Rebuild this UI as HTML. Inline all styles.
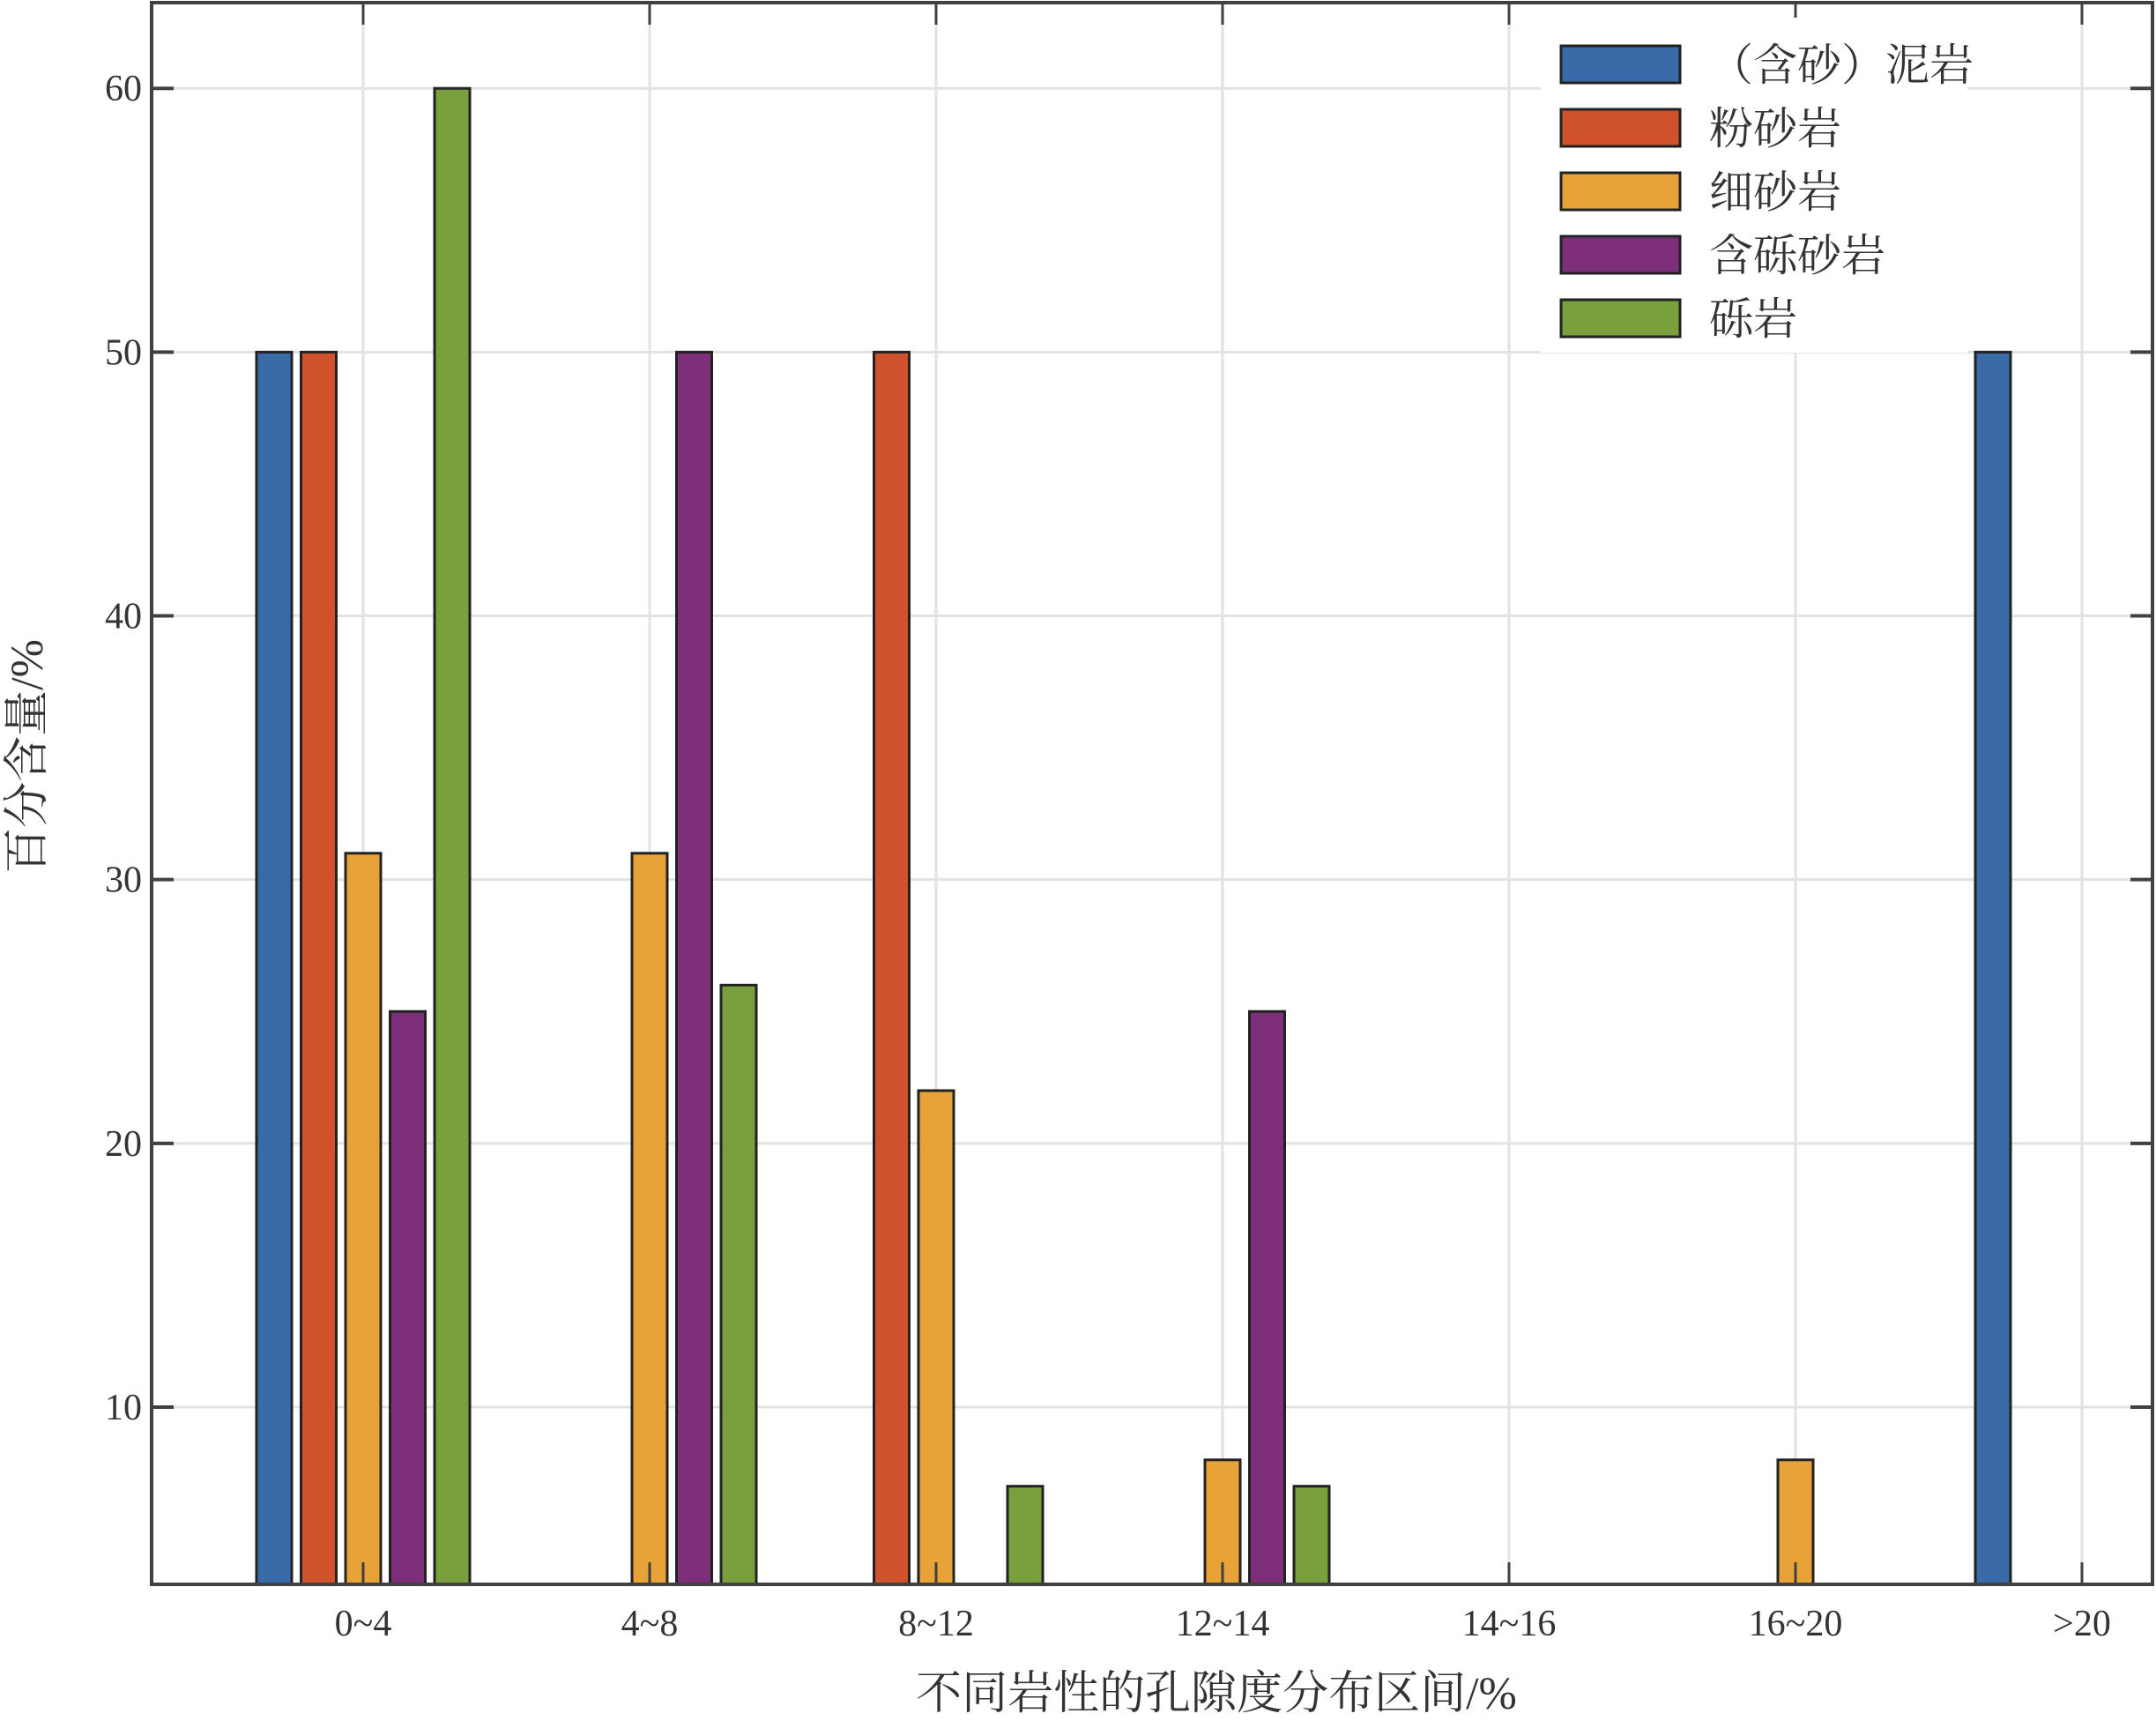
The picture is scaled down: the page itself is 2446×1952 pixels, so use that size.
<!DOCTYPE html>
<html><head><meta charset="utf-8"><style>
html,body{margin:0;padding:0;background:#fff}
svg{display:block}
text{font-family:"Liberation Serif","Noto Serif CJK SC",serif;fill:#333}
</style></head><body>
<svg id="chart" width="2446" height="1952" viewBox="0 0 2446 1952" xmlns="http://www.w3.org/2000/svg">
<g id="grid"></g>
<g id="bars"></g>
<g id="axes"></g>
<g id="legend"></g>
<text x="1380" y="1938" font-size="52" text-anchor="middle">不同岩性的孔隙度分布区间/%</text>
<text transform="translate(48,858) rotate(-90)" font-size="52" text-anchor="middle">百分含量/%</text>
</svg>
<script>
const categories = ["0~4","4~8","8~12","12~14","14~16","16~20",">20"];
const seriesNames = ["（含砂）泥岩","粉砂岩","细砂岩","含砾砂岩","砾岩"];
const mudstone = [50,0,0,0,0,0,50];
const siltstone = [50,0,50,0,0,0,0];
const fineSandstone = [31,31,22,8,0,8,0];
const pebblySandstone = [25,50,0,25,0,0,0];
const conglomerate = [60,26,7,7,0,0,0];
const yTicks = [10,20,30,40,50,60];

const series = [mudstone, siltstone, fineSandstone, pebblySandstone, conglomerate];
const colors = ["#3A6BA8","#D0522D","#E8A338","#7E2F7A","#79A03C"];
const NS = "http://www.w3.org/2000/svg";
const L = 172, R = 2442, T = 3, B = 1797;
const yMin = 3.28, yMax = 63.25;
const y = v => B - (v - yMin) / (yMax - yMin) * (B - T);
const x0 = 412, step = 325;
const x = i => x0 + i * step;
const barW = 40, pitch = 50.5;

function mk(tag, attrs, parent) {
  const e = document.createElementNS(NS, tag);
  for (const k in attrs) e.setAttribute(k, attrs[k]);
  parent.appendChild(e);
  return e;
}
const grid = document.getElementById('grid');
const bars = document.getElementById('bars');
const axes = document.getElementById('axes');
const legend = document.getElementById('legend');

yTicks.forEach(t => {
  const g = mk('line', {x1:L, x2:R, y1:y(t), y2:y(t), stroke:'#e2e2e2', 'stroke-width':3}, grid);
  
  
  const tk = mk('path', {d:`M${L},${y(t)}h25M${R},${y(t)}h-25`, stroke:'#404040', 'stroke-width':4}, axes);
  
  
  const lb = mk('text', {x:161, y:y(t)+14, 'font-size':42, 'text-anchor':'end'}, axes);
  lb.textContent = t;
  
  
});
categories.forEach((c, i) => {
  const g = mk('line', {x1:x(i), x2:x(i), y1:T, y2:B, stroke:'#e2e2e2', 'stroke-width':3}, grid);
  
  
  const tk = mk('path', {d:`M${x(i)},${B}v-25M${x(i)},${T}v25`, stroke:'#404040', 'stroke-width':3}, axes);
  
  
  const lb = mk('text', {x:x(i), y:1855, 'font-size':42, 'text-anchor':'middle'}, axes);
  lb.textContent = c;
  
  
});
series.forEach((vals, s) => {
  vals.forEach((v, i) => {
    if (v <= yMin) return;
    const cx = x(i) + (s - 2) * pitch;
    const r = mk('rect', {x:cx - barW/2, y:y(v), width:barW, height:B - y(v), fill:colors[s], stroke:'#222', 'stroke-width':3}, bars);
    
    
  });
});
const frame = mk('rect', {x:L, y:T, width:R-L, height:B-T, fill:'none', stroke:'#404040', 'stroke-width':4}, axes);



const lbg = mk('rect', {x:1748, y:20, width:484, height:380, fill:'#fff'}, legend);


seriesNames.forEach((n, s) => {
  const yy = 52 + s * 72;
  const p = mk('rect', {x:1771, y:yy, width:135, height:42, fill:colors[s], stroke:'#222', 'stroke-width':3}, legend);
  
  
  const t = mk('text', {x:1939, y:yy+39, 'font-size':50}, legend);
  t.textContent = n;
  
  
});
</script>
</body></html>
